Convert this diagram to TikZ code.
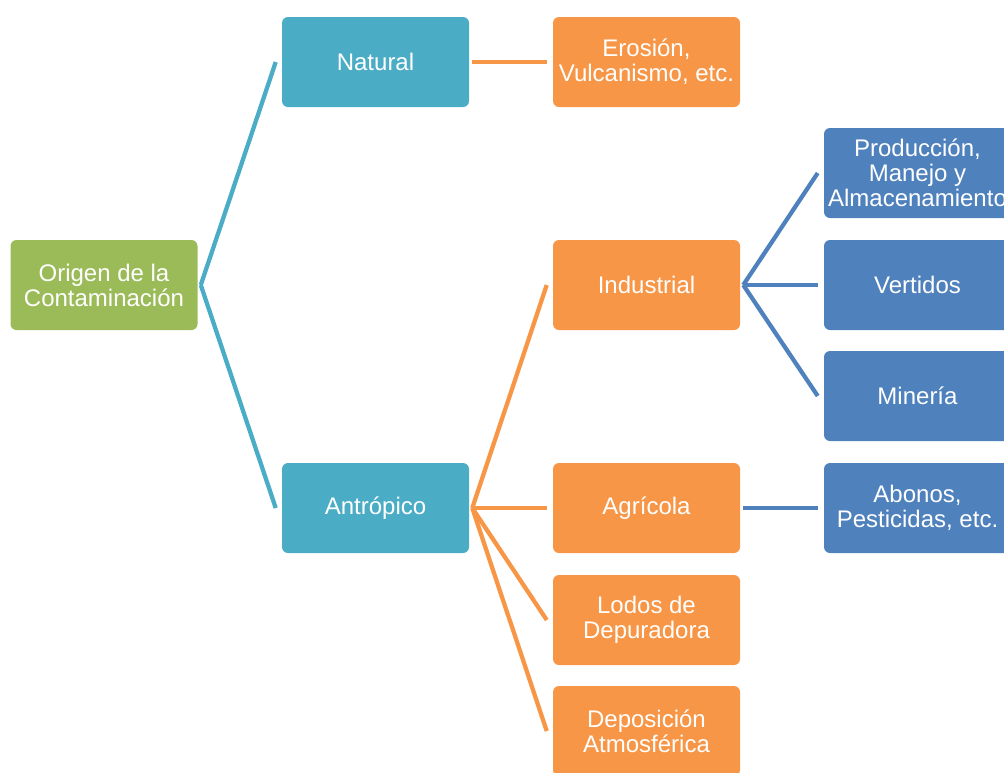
\documentclass[tikz,border=0pt]{standalone}
\usepackage{fontspec}
\setmainfont{Liberation Sans}
\usetikzlibrary{calc, positioning}
\definecolor{leaf}{HTML}{9BBB59}
\definecolor{teal}{HTML}{4BACC6}
\definecolor{tangerine}{HTML}{F79646}
\definecolor{steel}{HTML}{4F81BD}

\begin{document}
\begin{tikzpicture}[
    x=0.75pt, y=-0.75pt,
    box/.style={
      minimum width=140.25pt, minimum height=67.5pt, inner sep=2pt,
      rounded corners=4.5pt, text=white, align=center,
      font=\fontsize{18}{18.75}\selectfont
    },
    link/.style={line width=3.2pt}
  ]
  \useasboundingbox (0,0) rectangle (1004,772);
  \clip (0,0) rectangle (1004,772);

  % levels
  \node[box, fill=leaf] (origen) at (104,285) {Origen de la\\Contaminación};
  \node[box, fill=teal] (natural) at (375.5,62) {Natural};
  \node[box, fill=teal] (antropico) at (375.5,508) {Antrópico};
  \node[box, fill=tangerine] (erosion) at (646.5,62) {Erosión,\\Vulcanismo, etc.};
  \node[box, fill=tangerine] (industrial) at (646.5,285) {Industrial};
  \node[box, fill=tangerine] (agricola) at (646.5,508) {Agrícola};
  \node[box, fill=tangerine] (lodos) at (646.5,620) {Lodos de\\Depuradora};
  \node[box, fill=tangerine] (deposicion) at (646.5,731) {Deposición\\Atmosférica};
  \node[box, fill=steel] (produccion) at (917.5,173) {Producción,\\Manejo y\\Almacenamiento};
  \node[box, fill=steel] (vertidos) at (917.5,285) {Vertidos};
  \node[box, fill=steel] (mineria) at (917.5,396) {Minería};
  \node[box, fill=steel] (abonos) at (917.5,508) {Abonos,\\Pesticidas, etc.};

  % links
  \foreach \kid in {natural, antropico}
    \draw[link, teal] ([xshift=2.25pt]origen.east) -- ([xshift=-4.5pt]\kid.west);
  \draw[link, tangerine] ([xshift=2.25pt]natural.east) -- ([xshift=-4.5pt]erosion.west);
  \foreach \kid in {industrial, agricola, lodos, deposicion}
    \draw[link, tangerine] ([xshift=2.25pt]antropico.east) -- ([xshift=-4.5pt]\kid.west);
  \foreach \kid in {produccion, vertidos, mineria}
    \draw[link, steel] ([xshift=2.25pt]industrial.east) -- ([xshift=-4.5pt]\kid.west);
  \draw[link, steel] ([xshift=2.25pt]agricola.east) -- ([xshift=-4.5pt]abonos.west);
\end{tikzpicture}
\end{document}
